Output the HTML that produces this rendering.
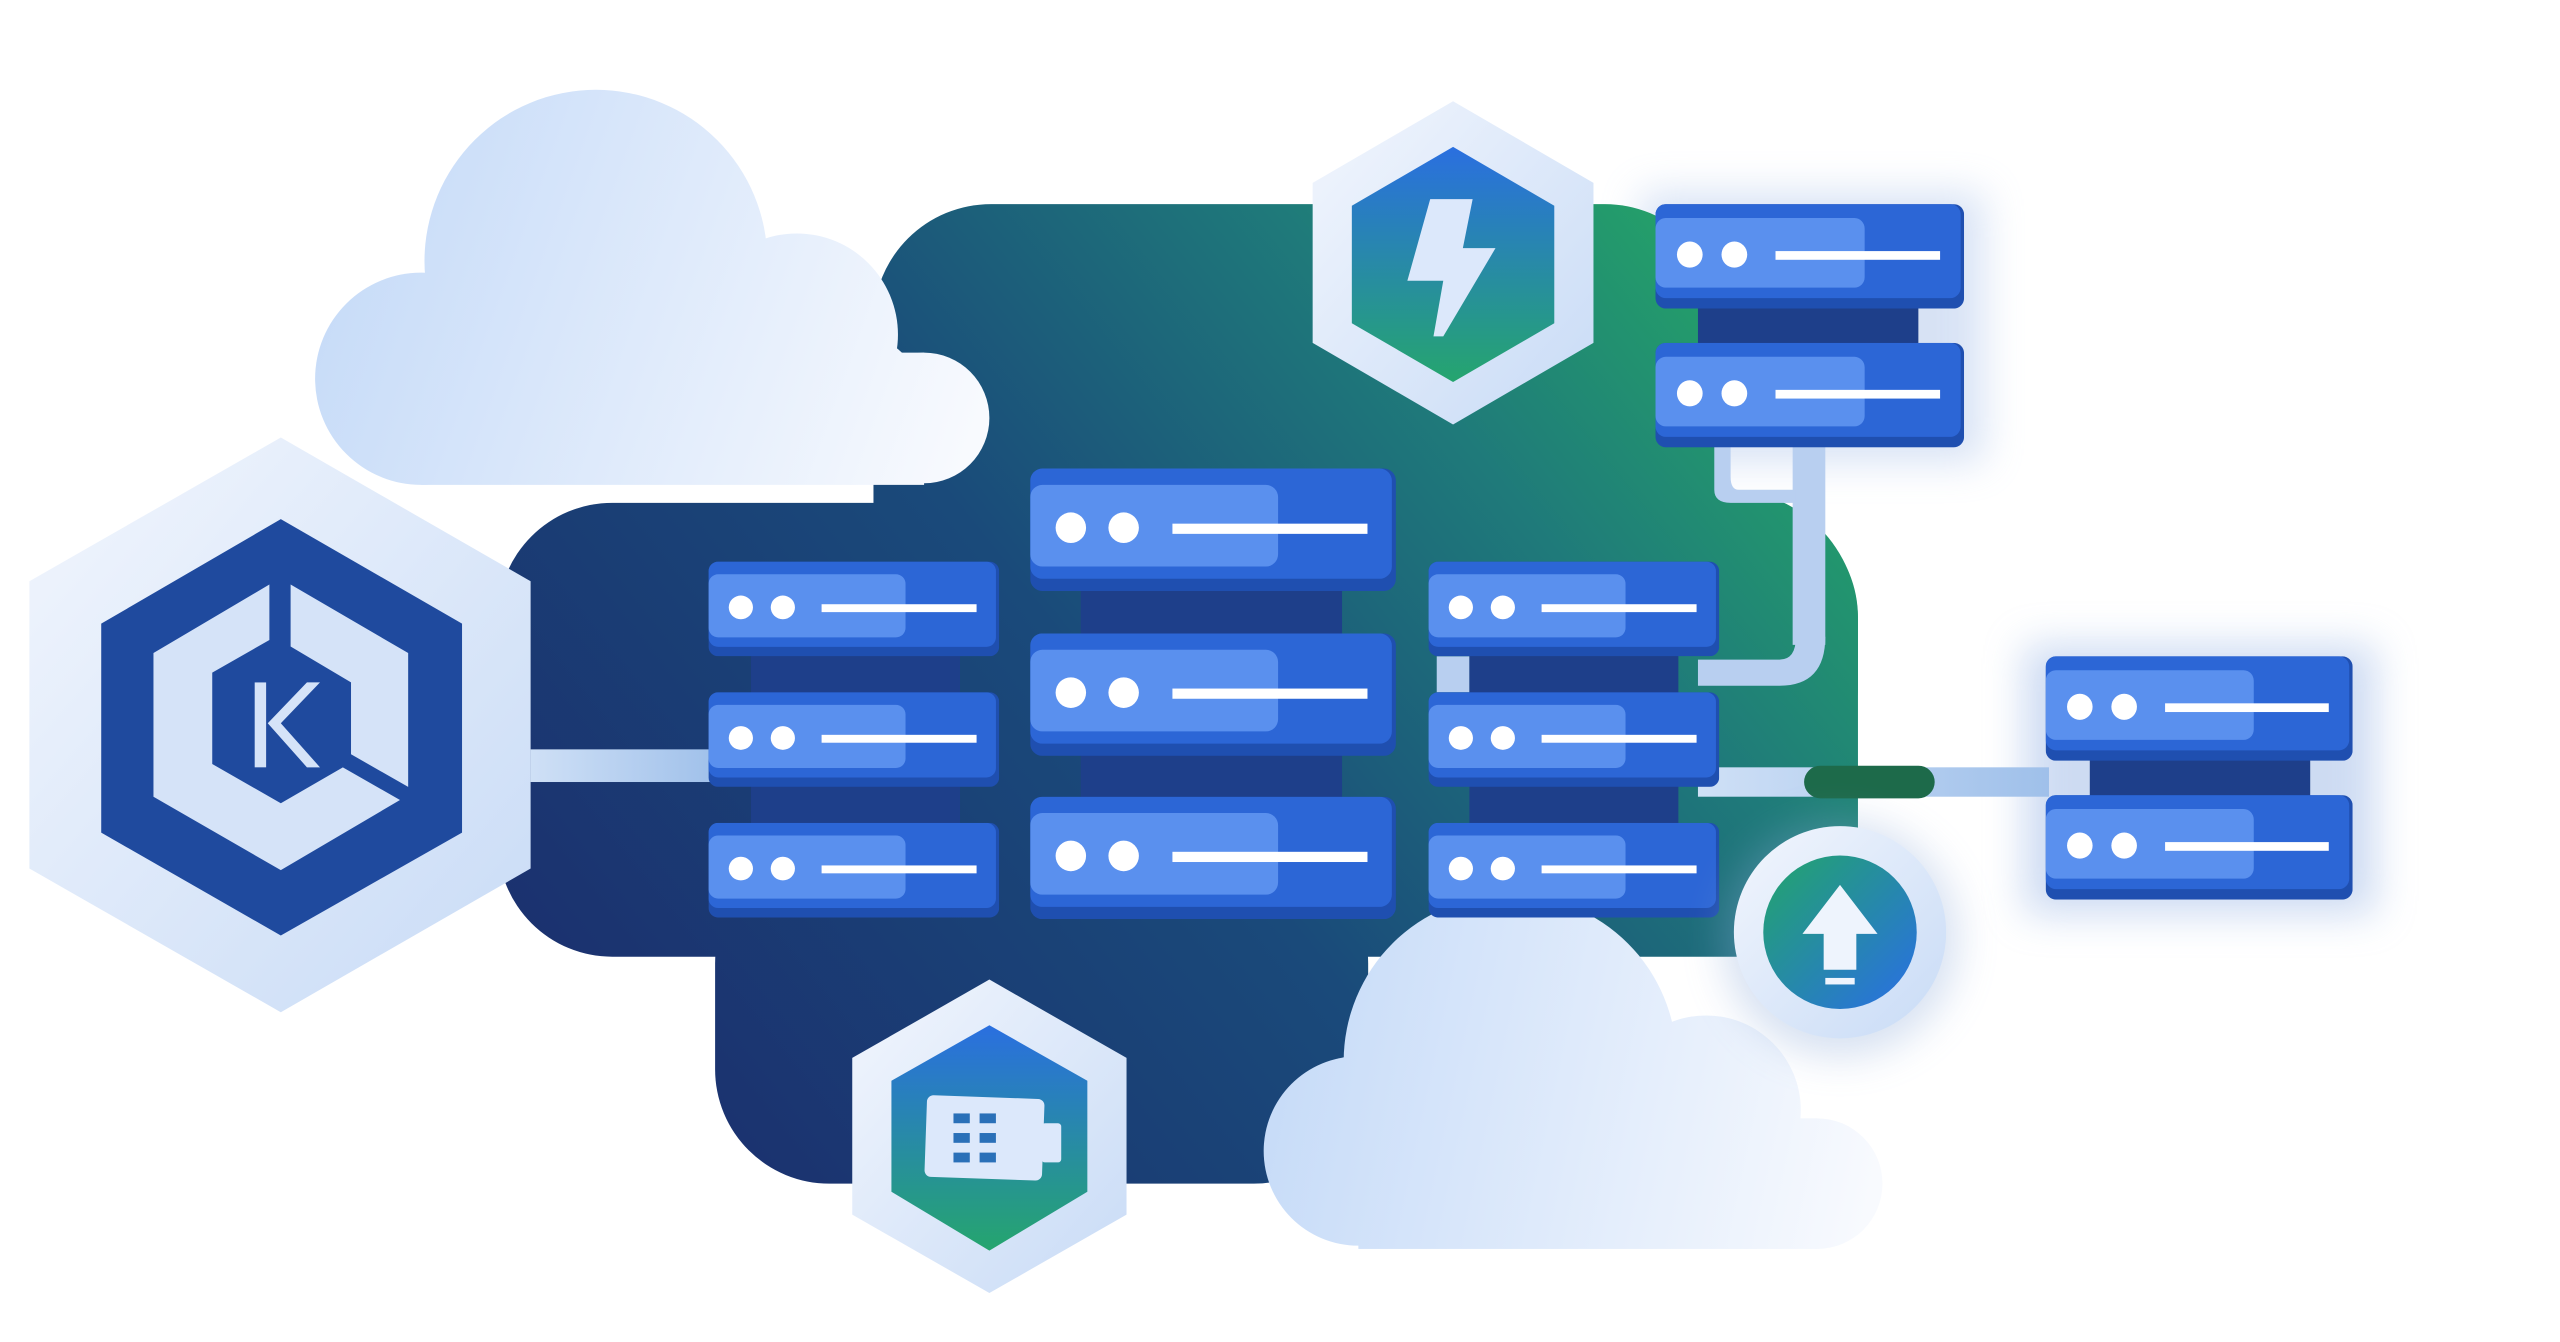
<!DOCTYPE html>
<html><head><meta charset="utf-8"><style>
html,body{margin:0;padding:0;background:#fff;width:2560px;height:1342px;overflow:hidden}
svg{display:block}
</style></head><body>
<svg width="2560" height="1342" viewBox="0 0 1568 822" preserveAspectRatio="none" xmlns="http://www.w3.org/2000/svg">
<defs>
<linearGradient id="bg" gradientUnits="userSpaceOnUse" x1="380" y1="700" x2="1080" y2="140">
<stop offset="0" stop-color="#1b2f6e"/><stop offset="0.45" stop-color="#1a4a7a"/><stop offset="0.75" stop-color="#1f7a7a"/><stop offset="1" stop-color="#25a866"/></linearGradient>
<linearGradient id="cl1" gradientUnits="userSpaceOnUse" x1="210" y1="120" x2="600" y2="260">
<stop offset="0" stop-color="#c6dbf8"/><stop offset="1" stop-color="#f8fafe"/></linearGradient>
<linearGradient id="cl2" gradientUnits="userSpaceOnUse" x1="775" y1="640" x2="1150" y2="720">
<stop offset="0" stop-color="#c6dbf8"/><stop offset="1" stop-color="#f8fafe"/></linearGradient>
<linearGradient id="hexo" x1="0" y1="0" x2="1" y2="1">
<stop offset="0" stop-color="#f2f6fd"/><stop offset="1" stop-color="#c8dbf6"/></linearGradient>
<linearGradient id="gb" x1="0" y1="0" x2="0" y2="1">
<stop offset="0" stop-color="#2a6fe0"/><stop offset="1" stop-color="#25a56e"/></linearGradient>
<linearGradient id="gbr" x1="0" y1="0" x2="1" y2="1">
<stop offset="0" stop-color="#22a56a"/><stop offset="1" stop-color="#2a6ee6"/></linearGradient>
<linearGradient id="band" x1="0" y1="0" x2="1" y2="0">
<stop offset="0" stop-color="#cfe0f6"/><stop offset="1" stop-color="#9fc0ea"/></linearGradient>
<filter id="sh" x="-30%" y="-30%" width="160%" height="160%"><feGaussianBlur stdDeviation="12"/></filter>
<symbol id="srv" viewBox="0 0 180 60" preserveAspectRatio="none">
<rect x="0" y="0" width="180" height="60" rx="6" fill="#1f4fb0"/>
<rect x="0" y="0" width="178" height="54" rx="6" fill="#2c66d6"/>
<rect x="0" y="8" width="122" height="40" rx="6" fill="#5a90ee"/>
<circle cx="20" cy="29" r="7.5" fill="#fff"/><circle cx="46" cy="29" r="7.5" fill="#fff"/>
<rect x="70" y="27" width="96" height="5" fill="#fff"/>
</symbol>
</defs>

<rect x="1240" y="395" width="215" height="165" fill="#9cb8e6" opacity="0.5" filter="url(#sh)"/>
<rect x="1005" y="118" width="210" height="165" fill="#9cb8e6" opacity="0.4" filter="url(#sh)"/>

<g fill="url(#bg)">
<rect x="305" y="308" width="833" height="278" rx="70"/>
<rect x="535" y="125" width="520" height="320" rx="72"/>
<rect x="438" y="520" width="400" height="205" rx="70"/>
<rect x="900" y="300" width="238" height="200" rx="80"/>
</g>

<g fill="url(#cl1)">
<circle cx="365" cy="160" r="105"/>
<circle cx="488" cy="205" r="62"/>
<circle cx="258" cy="232" r="65"/>
<circle cx="566" cy="256" r="40"/>
<circle cx="520" cy="250" r="47"/>
<rect x="258" y="216" width="308" height="81"/>
</g>
<g fill="url(#cl2)">
<circle cx="925" cy="650" r="102"/>
<circle cx="1045" cy="680" r="58"/>
<circle cx="832" cy="705" r="58"/>
<circle cx="1113" cy="725" r="40"/>
<circle cx="1070" cy="720" r="45"/>
<rect x="832" y="685" width="281" height="80"/>
</g>

<rect x="325" y="459" width="115" height="20" fill="url(#band)"/>
<rect x="1040" y="470" width="215" height="18" fill="url(#band)"/>
<rect x="1105" y="469" width="80" height="20" rx="10" fill="#1d6a4a"/>
<rect x="1098" y="270" width="20" height="125" fill="#b8cff0"/>
<path d="M1118 390 Q1118 420 1090 420 L1040 420 L1040 404 L1090 404 Q1100 404 1100 390Z" fill="#b8cff0"/>
<path d="M1050 273 L1050 300 Q1050 308 1060 308 L1100 308 L1100 300 L1065 300 Q1060 300 1060 292 L1060 273Z" fill="#b8cff0"/>
<rect x="880" y="402" width="20" height="22" fill="#b8cff0"/>

<rect x="460" y="395" width="128" height="120" fill="#1e3f8a"/>
<rect x="662" y="355" width="160" height="140" fill="#1e3f8a"/>
<rect x="900" y="395" width="128" height="120" fill="#1e3f8a"/>
<rect x="1040" y="183" width="135" height="35" fill="#1e3f8a"/>
<rect x="1280" y="460" width="135" height="35" fill="#1e3f8a"/>

<use href="#srv" x="434" y="344" width="178" height="58"/>
<use href="#srv" x="434" y="424" width="178" height="58"/>
<use href="#srv" x="434" y="504" width="178" height="58"/>
<use href="#srv" x="631" y="287" width="224" height="75"/>
<use href="#srv" x="631" y="388" width="224" height="75"/>
<use href="#srv" x="631" y="488" width="224" height="75"/>
<use href="#srv" x="875" y="344" width="178" height="58"/>
<use href="#srv" x="875" y="424" width="178" height="58"/>
<use href="#srv" x="875" y="504" width="178" height="58"/>
<use href="#srv" x="1014" y="125" width="189" height="64"/>
<use href="#srv" x="1014" y="210" width="189" height="64"/>
<use href="#srv" x="1253" y="402" width="188" height="64"/>
<use href="#srv" x="1253" y="487" width="188" height="64"/>

<polygon points="172,268 325,356 325,532 172,620 18,532 18,356" fill="url(#hexo)"/>
<polygon points="172,318 283,382 283,510 172,573 62,510 62,382" fill="#1f4a9e"/>
<polygon points="165,358 165,392 130,412 130,468 172,492 210,470 245,490 172,533 94,488 94,400" fill="#d5e3f8"/>
<polygon points="178,358 250,400 250,482 215,462 215,418 178,396" fill="#d5e3f8"/>
<rect x="156" y="418" width="7" height="52" fill="#d5e3f8"/>
<path d="M164 443 L188 418 L196 418 L172 443 L196 470 L188 470Z" fill="#d5e3f8"/>

<polygon points="890,62 976,112 976,210 890,260 804,210 804,112" fill="url(#hexo)"/>
<polygon points="890,90 952,126 952,198 890,234 828,198 828,126" fill="url(#gb)"/>
<path d="M876 122 L902 122 L896 152 L916 152 L884 206 L878 206 L884 172 L862 172Z" fill="#dce8fb"/>

<polygon points="606,600 690,648 690,744 606,792 522,744 522,648" fill="url(#hexo)"/>
<polygon points="606,628 666,662 666,730 606,766 546,730 546,662" fill="url(#gb)"/>
<rect x="567" y="672" width="72" height="50" rx="4" fill="#dce8fb" transform="rotate(2 603 697)"/>
<rect x="638" y="688" width="12" height="24" rx="2" fill="#dce8fb"/>
<g fill="#2a70b8"><rect x="584" y="682" width="10" height="6"/><rect x="600" y="682" width="10" height="6"/><rect x="584" y="694" width="10" height="6"/><rect x="600" y="694" width="10" height="6"/><rect x="584" y="706" width="10" height="6"/><rect x="600" y="706" width="10" height="6"/></g>

<circle cx="1127" cy="575" r="72" fill="#8aa8d8" opacity="0.35" filter="url(#sh)"/>
<circle cx="1127" cy="571" r="65" fill="url(#hexo)"/>
<circle cx="1127" cy="571" r="47" fill="url(#gbr)"/>
<path d="M1127 542 L1150 572 L1137 572 L1137 594 L1117 594 L1117 572 L1104 572Z" fill="#eef4fd"/>
<rect x="1118" y="599" width="18" height="4" fill="#eef4fd"/>
</svg>
</body></html>
